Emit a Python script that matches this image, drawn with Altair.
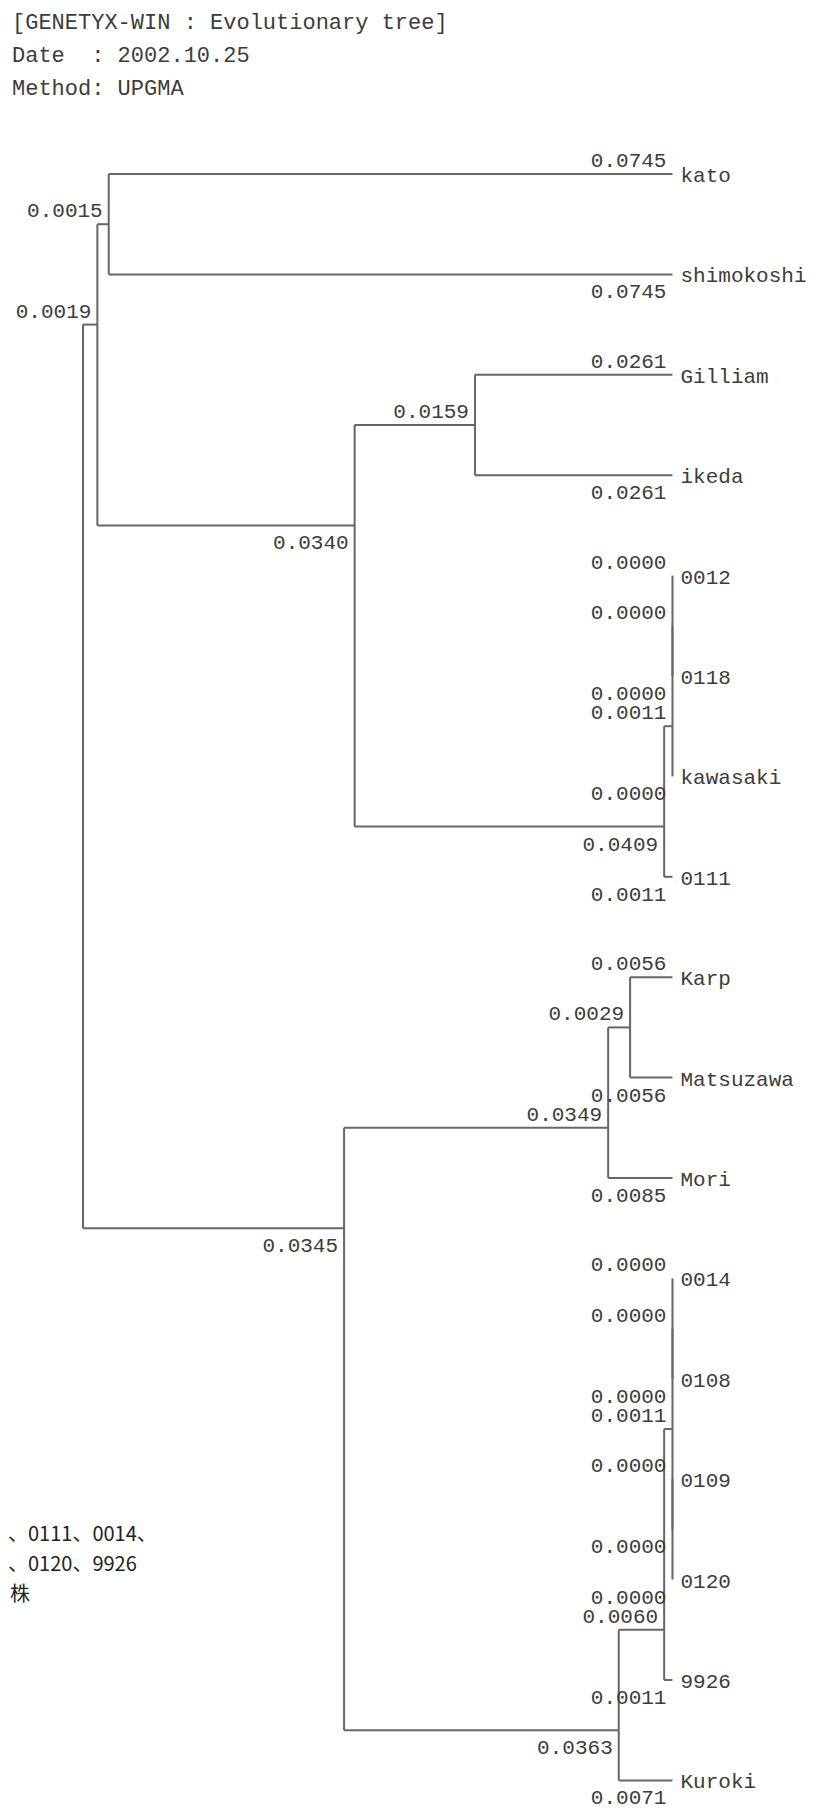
import altair as alt
import pandas as pd

# ---------------- data ----------------
header_lines = ["[GENETYX-WIN : Evolutionary tree]", "Date\u00a0\u00a0: 2002.10.25", "Method: UPGMA"]

leaf_names = ["kato", "shimokoshi", "Gilliam", "ikeda", "0012", "0118", "kawasaki", "0111",
              "Karp", "Matsuzawa", "Mori", "0014", "0108", "0109", "0120", "9926", "Kuroki"]

# internal nodes: (name, upper child, lower child, upper branch length, lower branch length)
node_names = ["KS", "GI", "Z1", "Z2", "X", "B", "A", "KM", "D", "G1", "G2", "G", "F", "E", "C", "ROOT"]
upper_child = ["kato", "Gilliam", "0012", "Z1", "Z2", "GI", "KS", "Karp", "KM", "0014", "0109", "G1", "G", "F", "D", "A"]
lower_child = ["shimokoshi", "ikeda", "0118", "kawasaki", "0111", "X", "B", "Matsuzawa", "Mori", "0108", "0120", "G2", "9926", "Kuroki", "E", "C"]
upper_len = [0.0745, 0.0261, 0.0000, 0.0000, 0.0011, 0.0159, 0.0015, 0.0056, 0.0029, 0.0000, 0.0000, 0.0000, 0.0011, 0.0060, 0.0349, 0.0019]
lower_len = [0.0745, 0.0261, 0.0000, 0.0000, 0.0011, 0.0409, 0.0340, 0.0056, 0.0085, 0.0000, 0.0000, 0.0000, 0.0011, 0.0071, 0.0363, 0.0345]

side_note_lines = ["、0111、0014、", "、0120、9926", "株"]

# ---------------- layout of the tree from topology ----------------
children = {n: (u, l, ul, ll) for n, u, l, ul, ll in zip(node_names, upper_child, lower_child, upper_len, lower_len)}
row = {name: i for i, name in enumerate(leaf_names)}

span = {}
def leaf_span(n):
    if n in row:
        span[n] = (row[n], row[n])
    else:
        u, l, _, _ = children[n]
        a = leaf_span(u); b = leaf_span(l)
        span[n] = (min(a[0], b[0]), max(a[1], b[1]))
    return span[n]
leaf_span("ROOT")

ypos = {}
for n in span:
    if n in row:
        ypos[n] = row[n]
    else:
        u, l, _, _ = children[n]
        ypos[n] = (span[u][1] + span[l][0]) / 2.0

depth = {"ROOT": 0.0}
def set_depth(n):
    if n in children:
        u, l, ul, ll = children[n]
        depth[u] = depth[n] + ul
        depth[l] = depth[n] + ll
        set_depth(u); set_depth(l)
set_depth("ROOT")

segs, above, below, leaves = [], [], [], []
for n, (u, l, ul, ll) in children.items():
    segs.append({"x": depth[n], "x2": depth[n], "y": ypos[u], "y2": ypos[l]})
    segs.append({"x": depth[n], "x2": depth[u], "y": ypos[u], "y2": ypos[u]})
    segs.append({"x": depth[n], "x2": depth[l], "y": ypos[l], "y2": ypos[l]})
    above.append({"x": depth[u], "y": ypos[u], "t": f"{ul:.4f}"})
    below.append({"x": depth[l], "y": ypos[l], "t": f"{ll:.4f}"})
for name in leaf_names:
    leaves.append({"x": depth[name], "y": ypos[name], "t": name})

seg_df = pd.DataFrame(segs)
above_df = pd.DataFrame(above)
below_df = pd.DataFrame(below)
leaf_df = pd.DataFrame(leaves)

# ---------------- chart ----------------
W, H = 800, 1802
ROW_PX, ROW0 = 100.4, 166.0
PX_PER_UNIT, ROOT_X = 7567.0, 75.0
xs = alt.Scale(domain=[-ROOT_X / PX_PER_UNIT, (W - ROOT_X) / PX_PER_UNIT], nice=False, zero=False)
ys = alt.Scale(domain=[-ROW0 / ROW_PX, (H - ROW0) / ROW_PX], nice=False, zero=False, reverse=True)

MONO = "Liberation Mono"
TXT = "#3c3c3c"
LINE = "#666666"

rules = alt.Chart(seg_df).mark_rule(color=LINE, strokeWidth=2).encode(
    x=alt.X("x:Q", scale=xs, axis=None), x2="x2:Q",
    y=alt.Y("y:Q", scale=ys, axis=None), y2="y2:Q")

above_txt = alt.Chart(above_df).mark_text(align="right", baseline="middle", dx=-6, dy=-13,
                                          font=MONO, fontSize=21, color=TXT).encode(
    x=alt.X("x:Q", scale=xs, axis=None), y=alt.Y("y:Q", scale=ys, axis=None), text="t:N")

below_txt = alt.Chart(below_df).mark_text(align="right", baseline="middle", dx=-6, dy=18,
                                          font=MONO, fontSize=21, color=TXT).encode(
    x=alt.X("x:Q", scale=xs, axis=None), y=alt.Y("y:Q", scale=ys, axis=None), text="t:N")

leaf_txt = alt.Chart(leaf_df).mark_text(align="left", baseline="middle", dx=8, dy=2,
                                        font=MONO, fontSize=21, color=TXT).encode(
    x=alt.X("x:Q", scale=xs, axis=None), y=alt.Y("y:Q", scale=ys, axis=None), text="t:N")

header_layers = []
for i, line in enumerate(header_lines):
    header_layers.append(
        alt.Chart(pd.DataFrame({"t": [line]})).mark_text(
            align="left", baseline="middle", font=MONO, fontSize=22, color=TXT
        ).encode(x=alt.value(4), y=alt.value(14 + 33 * i), text="t:N"))

side_layers = []
side_x = [0, 0, 2]
for i, line in enumerate(side_note_lines):
    side_layers.append(
        alt.Chart(pd.DataFrame({"t": [line]})).mark_text(
            align="left", baseline="middle", font="Noto Sans CJK JP", fontSize=20, color="#222222"
        ).encode(x=alt.value(side_x[i]), y=alt.value(1527 + 30 * i), text="t:N"))

chart = alt.layer(rules, above_txt, below_txt, leaf_txt, *header_layers, *side_layers).properties(
    width=W, height=H, padding=0, autosize=alt.AutoSizeParams(type="none")
).configure_view(strokeWidth=0)

chart.save("out.html", embed_options={"renderer": "svg", "actions": False})
